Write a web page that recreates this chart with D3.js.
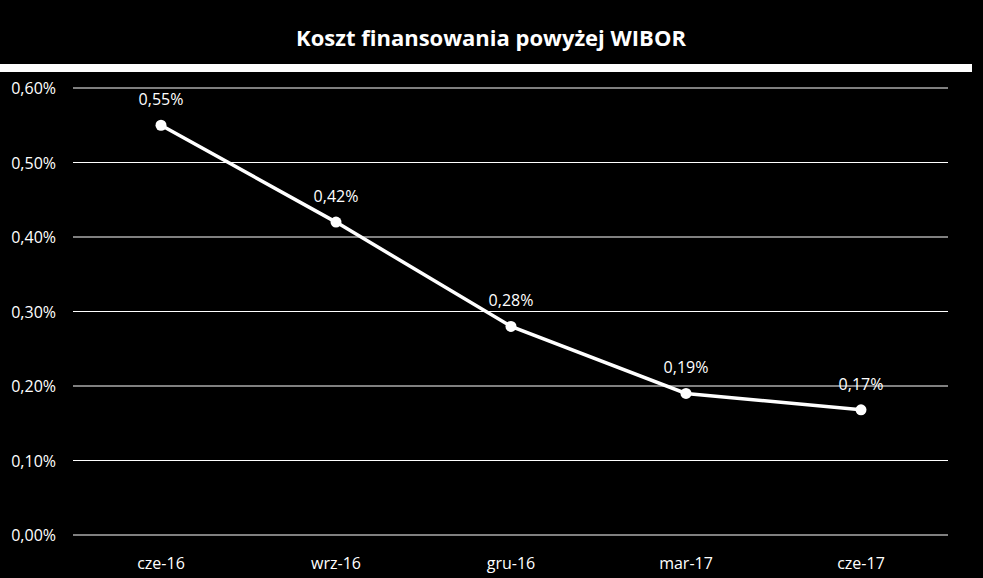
<!DOCTYPE html>
<html><head><meta charset="utf-8">
<script src="https://cdn.jsdelivr.net/npm/d3@7/dist/d3.min.js"></script>
<style>body{margin:0;background:#000}svg{display:block}</style>
</head><body>
<script>
const categories = ["cze-16","wrz-16","gru-16","mar-17","cze-17"];
const values = [0.55,0.42,0.28,0.19,0.168];
const labels = ["0,55%","0,42%","0,28%","0,19%","0,17%"];
const yTicks = [0,0.1,0.2,0.3,0.4,0.5,0.6];
const title = "Koszt finansowania powyżej WIBOR";

const W=983,H=578;
const svg=d3.select("body").append("svg").attr("width",W).attr("height",H).style("background","#000");
const font="'Open Sans', 'Liberation Sans', sans-serif";
svg.append("text").attr("x",491).attr("y",46).attr("text-anchor","middle").attr("fill","#fff")
  .style("font-family",font).style("font-weight","bold").style("font-size","22px").text(title);
svg.append("rect").attr("x",0).attr("y",64).attr("width",972).attr("height",8).attr("fill","#fff");

const x=d3.scalePoint().domain(categories).range([161,861]);
const y=d3.scaleLinear().domain([0,0.6]).range([535,88]);
const g=svg.append("g");
g.selectAll("line.grid").data(yTicks).join("line").attr("class","grid")
  .attr("x1",73).attr("x2",948).attr("y1",d=>y(d)).attr("y2",d=>y(d))
  .attr("stroke","#fff").attr("stroke-width",1);
g.selectAll("text.yt").data(yTicks).join("text").attr("class","yt")
  .attr("x",56).attr("y",d=>y(d)+6).attr("text-anchor","end").attr("fill","#fff")
  .style("font-family",font).style("font-size","16px")
  .text(d=>d3.format(".2f")(d).replace(".",",")+"%");
g.selectAll("text.xt").data(categories).join("text").attr("class","xt")
  .attr("x",d=>x(d)).attr("y",569).attr("text-anchor","middle").attr("fill","#fff")
  .style("font-family",font).style("font-size","16px").text(d=>d);
const line=d3.line().x((d,i)=>x(categories[i])).y(d=>y(d));
g.append("path").datum(values).attr("d",line).attr("fill","none").attr("stroke","#fff").attr("stroke-width",3.5);
g.selectAll("circle").data(values).join("circle").attr("cx",(d,i)=>x(categories[i])).attr("cy",d=>y(d))
  .attr("r",5.5).attr("fill","#fff");
g.selectAll("text.dl").data(values).join("text").attr("class","dl")
  .attr("x",(d,i)=>x(categories[i])).attr("y",d=>y(d)-20).attr("text-anchor","middle").attr("fill","#fff")
  .style("font-family",font).style("font-size","16px").text((d,i)=>labels[i]);
</script>
</body></html>
